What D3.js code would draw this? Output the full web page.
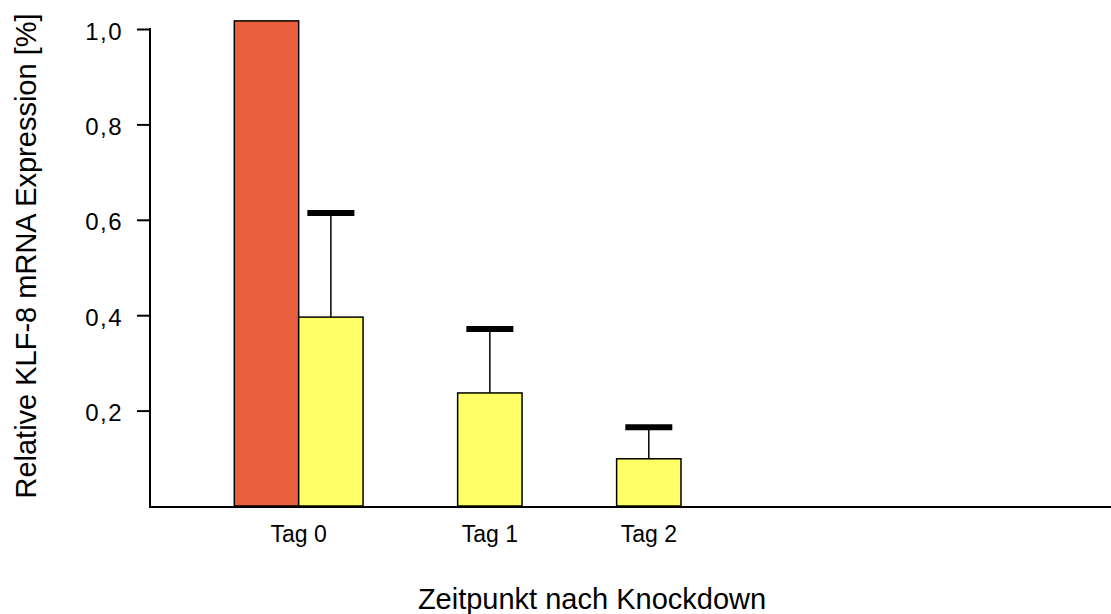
<!DOCTYPE html>
<html>
<head>
<meta charset="utf-8">
<script src="https://cdn.jsdelivr.net/npm/d3@7"></script>
<style>
  html, body { margin: 0; padding: 0; background: #fff; }
  svg { display: block; font-family: "Liberation Sans", Arial, sans-serif; }
</style>
</head>
<body>
<svg id="chart" width="1111" height="614"></svg>
<script>
// Zeitpunkte nach dem Knockdown
const categories = ["Tag 0", "Tag 1", "Tag 2"];
// Kontrolle (nur Tag 0) und Knockdown-Werte
const controlValues = [1.017, null, null];
const knockdownValues = [0.396, 0.237, 0.099];
// Obere Grenze der Fehlerbalken (Mittelwert + SD)
const knockdownUpper = [0.614, 0.371, 0.165];
// Beschriftung der y-Achse
const yTicks = [0.2, 0.4, 0.6, 0.8, 1.0];
const yTickLabels = ["0,2", "0,4", "0,6", "0,8", "1,0"];
const series = ["Kontrolle", "Knockdown"];

const svg = d3.select("#chart");
const axisLeft = 150, axisRight = 1111;
const y0 = 506, y1 = 29;

const y = d3.scaleLinear().domain([0, 1.0]).range([y0, y1]);
const x = d3.scaleBand().domain(categories).range([234.3, 681]).paddingInner(0.19).paddingOuter(0);
const xs = d3.scaleBand().domain(series).range([0, x.bandwidth()]);

const rows = categories.map((c, i) => ({
  cat: c, control: controlValues[i], knock: knockdownValues[i], upper: knockdownUpper[i]
}));

const barCenter = (d, s) => x(d.cat) + xs(s) + xs.bandwidth() / 2;

// Balken der Kontrolle
svg.append("g").selectAll("rect")
  .data(rows.filter(d => d.control != null))
  .join("rect")
  .attr("x", d => x(d.cat) + xs("Kontrolle"))
  .attr("y", d => y(d.control))
  .attr("width", xs.bandwidth())
  .attr("height", d => y(0) - y(d.control))
  .attr("fill", "#EA603F")
  .attr("stroke", "#000")
  .attr("stroke-width", 1.5);

// Fehlerbalken (nur nach oben)
const err = svg.append("g");
err.selectAll("line.stem")
  .data(rows)
  .join("line")
  .attr("class", "stem")
  .attr("x1", d => barCenter(d, "Knockdown"))
  .attr("x2", d => barCenter(d, "Knockdown"))
  .attr("y1", d => y(d.knock))
  .attr("y2", d => y(d.upper))
  .attr("stroke", "#000")
  .attr("stroke-width", 1.5);
err.selectAll("line.cap")
  .data(rows)
  .join("line")
  .attr("class", "cap")
  .attr("x1", d => barCenter(d, "Knockdown") - 23.5)
  .attr("x2", d => barCenter(d, "Knockdown") + 23.5)
  .attr("y1", d => y(d.upper))
  .attr("y2", d => y(d.upper))
  .attr("stroke", "#000")
  .attr("stroke-width", 6);

// Balken des Knockdowns
svg.append("g").selectAll("rect")
  .data(rows)
  .join("rect")
  .attr("x", d => x(d.cat) + xs("Knockdown"))
  .attr("y", d => y(d.knock))
  .attr("width", xs.bandwidth())
  .attr("height", d => y(0) - y(d.knock))
  .attr("fill", "#FFFF66")
  .attr("stroke", "#000")
  .attr("stroke-width", 1.5);

// y-Achse
const yAxis = d3.axisLeft(y).tickValues(yTicks)
  .tickFormat((d, i) => yTickLabels[i]).tickSize(13).tickPadding(14);
const gy = svg.append("g").attr("transform", `translate(${axisLeft},0)`).call(yAxis);
gy.select(".domain").remove();
gy.selectAll(".tick line").attr("stroke", "#000").attr("stroke-width", 2);
gy.selectAll(".tick text")
  .attr("font-size", 24)
  .attr("letter-spacing", 1.5)
  .attr("dy", "0.42em")
  .attr("fill", "#000")
  .attr("font-family", "Liberation Sans, Arial, sans-serif");
svg.append("line")
  .attr("x1", axisLeft).attr("x2", axisLeft)
  .attr("y1", y(1.0) - 1).attr("y2", y0 + 2)
  .attr("stroke", "#000").attr("stroke-width", 2);

// x-Achse
svg.append("line")
  .attr("x1", axisLeft - 1).attr("x2", axisRight)
  .attr("y1", y0 + 1).attr("y2", y0 + 1)
  .attr("stroke", "#000").attr("stroke-width", 2);

// Kategorien unter den jeweils vorhandenen Balken zentriert
svg.append("g").selectAll("text")
  .data(rows)
  .join("text")
  .attr("x", d => d3.mean(
      [d.control != null ? barCenter(d, "Kontrolle") : null, barCenter(d, "Knockdown")]
        .filter(v => v != null)))
  .attr("y", 542)
  .attr("text-anchor", "middle")
  .attr("font-size", 23)
  .attr("fill", "#000")
  .text(d => d.cat);

// Achsentitel
svg.append("text")
  .attr("x", 592).attr("y", 609)
  .attr("text-anchor", "middle")
  .attr("font-size", 29)
  .attr("fill", "#000")
  .text("Zeitpunkt nach Knockdown");
svg.append("text")
  .attr("transform", "translate(36,256) rotate(-90)")
  .attr("text-anchor", "middle")
  .attr("font-size", 29)
  .attr("fill", "#000")
  .text("Relative KLF-8 mRNA Expression [%]");
</script>
</body>
</html>
